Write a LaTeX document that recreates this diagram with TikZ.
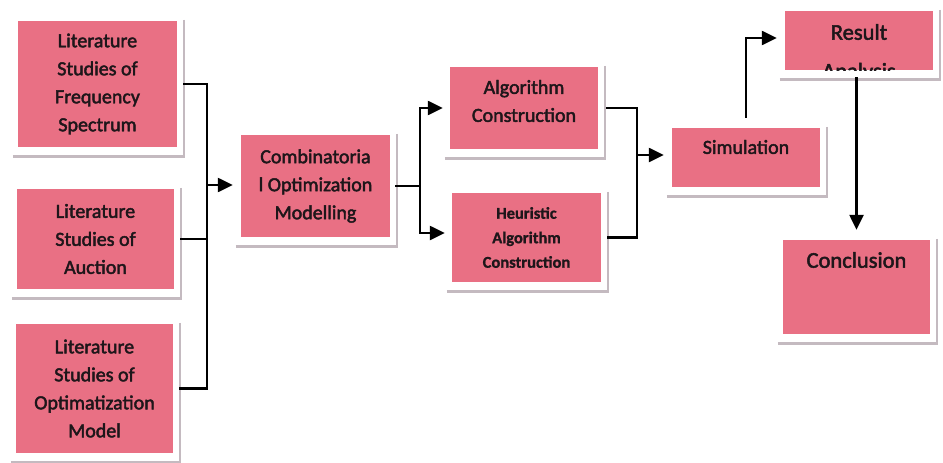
\documentclass[tikz,border=0pt]{standalone}
\usepackage{fontspec}
\setmainfont{Carlito}[FakeBold=2.2]
\newfontfamily\heubold{Carlito}[UprightFont=*-Bold,FakeBold=1]
\usetikzlibrary{arrows.meta,calc}
\definecolor{boxpink}{RGB}{233,112,132}
\definecolor{shadowgray}{RGB}{196,186,192}
\definecolor{inktext}{RGB}{30,22,26}
\newcommand\shadowfor[1]{%
  \draw[shadowgray, line width=3pt] ([xshift=-5pt,yshift=-9pt]#1.south west) -- ([xshift=8pt,yshift=-9pt]#1.south east);
  \draw[shadowgray, line width=1.8pt] ([xshift=7pt,yshift=1pt]#1.north east) -- ([xshift=7pt,yshift=-9pt]#1.south east);}
\begin{document}
\begin{tikzpicture}[x=1pt,y=-1pt,
  box/.style={fill=boxpink, draw=none, inner sep=0pt, align=center, text=inktext, font=\fontsize{20}{28}\selectfont},
  txt/.style={inner sep=0pt, align=center, text=inktext, font=\fontsize{20}{28}\selectfont},
  bigtxt/.style={txt, font=\fontsize{22.5}{28}\selectfont},
  conn/.style={line width=2.4pt, draw=black},
  arr/.style={conn, -{Triangle[length=15pt,width=14pt]}},
  ]
\useasboundingbox (0,0) rectangle (943,463);
\fill[white] (0,0) rectangle (943,463);

% boxes
\node[box, minimum width=159pt, minimum height=126pt] (b1) at (97.5,84) {Literature\\Studies of\\Frequency\\Spectrum};
\node[box, minimum width=157pt, minimum height=100pt] (b2) at (95.5,239) {Literature\\Studies of\\Auction};
\node[box, minimum width=157pt, minimum height=129pt] (b3) at (94.5,388.5) {Literature\\Studies of\\Optimatization\\Model};
\node[box, minimum width=149pt, minimum height=102pt] (comb) at (315.5,186) {Combinatoria\\l Optimization\\Modelling};
\node[box, minimum width=148pt, minimum height=82pt] (alg) at (524,108) {};
\node[txt] (algt) at (524,101) {Algorithm\\Construction};
\node[box, minimum width=149pt, minimum height=89pt, font=\fontsize{16.5}{24.5}\heubold] (heu) at (526.5,237.5) {Heuristic\\Algorithm\\Construction};
\node[box, minimum width=148pt, minimum height=59pt] (sim) at (746,157.5) {};
\node[txt] (simt) at (746,147) {Simulation};
\node[box, minimum width=148pt, minimum height=59pt] (res) at (859,40.5) {};
\node[bigtxt] (rest) at (859,32) {Result};
\begin{scope}
  \clip (res.south west) rectangle (res.north east);
  \node[bigtxt, anchor=base] (resa) at (859,78.5) {Analysis};
\end{scope}
\node[box, minimum width=147pt, minimum height=94pt] (con) at (856.5,287) {};
\node[bigtxt] (cont) at (856.5,260) {Conclusion};

% shadows
\shadowfor{b1}
\shadowfor{b2}
\shadowfor{b3}
\shadowfor{comb}
\shadowfor{alg}
\shadowfor{heu}
\shadowfor{sim}
\shadowfor{res}
\shadowfor{con}

% connectors
\coordinate (j1) at (207,185);
\draw[conn] ([xshift=6pt]b1.east) -| (j1);
\draw[conn] ([xshift=6pt]b3.east) -| (j1);
\draw[conn] ([xshift=6pt]b2.east) -- (b2.east -| j1);
\draw[arr] (j1) -- ($(comb.west |- j1)+(-8,0)$);

\coordinate (j2) at (420,186);
\draw[conn] ([xshift=5pt]comb.east) -- (j2);
\draw[arr] (j2) |- ($(alg.west)+(-7,0)$);
\draw[arr] (j2) |- ($(heu.west)+(-7,-4.5)$);

\coordinate (j3) at (637,155);
\draw[conn] ([xshift=8pt]alg.east) -| (j3);
\draw[conn] ([xshift=6pt]heu.east) -| (j3);
\draw[arr] (j3) -- ($(sim.west |- j3)+(-8,0)$);

\draw[arr] ($(sim.north)+(0,-10)$) |- ($(res.west)+(-8,-2.5)$);
\draw[arr] ($(con.north |- res.south)+(0,7)$) -- ($(con.north)+(0,-10)$);
\end{tikzpicture}
\end{document}
